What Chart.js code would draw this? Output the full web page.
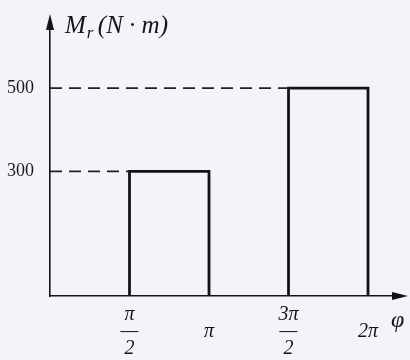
<!DOCTYPE html>
<html>
<head>
<meta charset="utf-8">
<script src="https://cdn.jsdelivr.net/npm/chart.js@4"></script>
<style>
  html, body { margin: 0; padding: 0; background: #f3f4f9; }
  #wrap { width: 410px; height: 360px; }
</style>
</head>
<body>
<div id="wrap"><canvas id="c" width="410" height="360"></canvas></div>
<script>
// 数据：两段矩形阻力矩
const phiStart = [Math.PI / 2, 3 * Math.PI / 2];
const phiEnd = [Math.PI, 2 * Math.PI];
const torque = [300, 500];
const yTicks = [300, 500];
const xTicks = [Math.PI / 2, Math.PI, 3 * Math.PI / 2, 2 * Math.PI];
const xTickLabels = [['π', '—', '2'], ['', 'π'], ['3π', '—', '2'], ['', '2π']];

const ink = '#141414';

// 矩形轮廓（左边、顶边、右边）
const rectSets = torque.map((v, i) => ({
    data: [
        { x: phiStart[i], y: 0 },
        { x: phiStart[i], y: v },
        { x: phiEnd[i], y: v },
        { x: phiEnd[i], y: 0 }
    ],
    showLine: true,
    borderColor: ink,
    borderWidth: 2.8,
    pointRadius: 0,
    fill: false
}));

// 虚线：从 y 轴到矩形顶边
const dashSets = torque.map((v, i) => ({
    data: [{ x: 0, y: v }, { x: phiStart[i], y: v }],
    showLine: true,
    borderColor: '#222',
    borderWidth: 1.8,
    borderDash: [12, 7],
    pointRadius: 0,
    fill: false
}));

// 箭头和坐标轴标题
const axisDeco = {
    id: 'axisDeco',
    afterDraw(chart) {
        const { ctx, chartArea } = chart;
        const x0 = chartArea.left, y0 = chartArea.bottom;
        ctx.save();
        ctx.fillStyle = ink;
        ctx.strokeStyle = ink;
        ctx.lineWidth = 1.6;
        // y 轴延长与箭头
        ctx.beginPath();
        ctx.moveTo(x0, chartArea.top);
        ctx.lineTo(x0, 24);
        ctx.stroke();
        ctx.beginPath();
        ctx.moveTo(x0, 14);
        ctx.lineTo(x0 - 4, 30);
        ctx.lineTo(x0 + 4, 30);
        ctx.closePath();
        ctx.fill();
        // x 轴箭头
        const xe = 408;
        ctx.beginPath();
        ctx.moveTo(chartArea.right, y0);
        ctx.lineTo(xe - 8, y0);
        ctx.stroke();
        ctx.beginPath();
        ctx.moveTo(xe, y0);
        ctx.lineTo(xe - 16, y0 - 4);
        ctx.lineTo(xe - 16, y0 + 4);
        ctx.closePath();
        ctx.fill();
        // 标题
        ctx.textBaseline = 'alphabetic';
        ctx.textAlign = 'left';
        ctx.font = 'italic 25px "Liberation Serif"';
        ctx.fillText('M', 65, 33);
        const mw = ctx.measureText('M').width;
        ctx.font = 'italic 17px "Liberation Serif"';
        ctx.fillText('r', 65 + mw + 1, 38);
        ctx.font = 'italic 25px "Liberation Serif"';
        ctx.fillText('(N · m)', 65 + mw + 12, 33);
        ctx.font = 'italic 24px "Liberation Serif"';
        ctx.fillText('φ', 391, 327);
        ctx.restore();
    }
};

new Chart(document.getElementById('c'), {
    type: 'scatter',
    data: { datasets: [...dashSets, ...rectSets] },
    options: {
        responsive: false,
        animation: false,
        layout: { padding: { top: 30, right: 10, left: 0, bottom: 0 } },
        plugins: { legend: { display: false }, tooltip: { enabled: false } },
        scales: {
            x: {
                type: 'linear',
                min: 0,
                max: 6.915,
                afterBuildTicks: axis => { axis.ticks = xTicks.map(v => ({ value: v })); },
                afterFit: axis => { axis.height = 64; },
                ticks: {
                    autoSkip: false,
                    maxRotation: 0,
                    padding: 2,
                    color: ink,
                    font: { family: 'Liberation Serif', style: 'italic', size: 20, lineHeight: 0.85 },
                    callback: (v, i) => xTickLabels[i]
                },
                grid: { display: false },
                border: { color: ink, width: 1.6 }
            },
            y: {
                min: 0,
                max: 640,
                afterBuildTicks: axis => { axis.ticks = yTicks.map(v => ({ value: v })); },
                afterFit: axis => { axis.width = 50; },
                ticks: {
                    padding: 8,
                    color: '#1c1c1c',
                    font: { family: 'Liberation Serif', size: 18 }
                },
                grid: { display: false },
                border: { color: ink, width: 1.6 }
            }
        }
    },
    plugins: [axisDeco]
});
</script>
</body>
</html>
